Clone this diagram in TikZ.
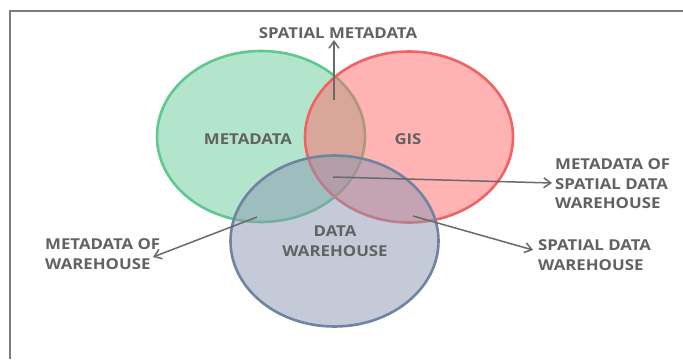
\documentclass[tikz,border=0pt]{standalone}
\usepackage{fontspec}
\setmainfont{Open Sans}[FakeStretch=1.12]
\usetikzlibrary{arrows.meta,shapes.geometric}
\definecolor{txtgray}{RGB}{98,98,98}
\definecolor{arrgray}{RGB}{105,105,110}
\definecolor{framegray}{RGB}{125,125,125}
\definecolor{gfill}{RGB}{105,205,155}
\definecolor{gline}{RGB}{95,200,140}
\definecolor{rfill}{RGB}{255,105,105}
\definecolor{rline}{RGB}{240,98,100}
\definecolor{bfill}{RGB}{139,151,179}
\definecolor{bline}{RGB}{112,132,162}
\tikzset{
  venn/.style={ellipse, minimum width=208pt, minimum height=171pt, line width=2.6pt, fill opacity=0.5, inner sep=0pt},
  lbl/.style={text=txtgray, font=\bfseries\fontsize{15}{19.5}\selectfont, inner sep=0pt},
  arr/.style={draw=arrgray, line width=1.5pt, -{Straight Barb[length=7pt,width=10pt]}}
}
\begin{document}
\begin{tikzpicture}[x=1pt,y=-1pt]
\useasboundingbox (0,0) rectangle (683,359);
\fill[white] (0,0) rectangle (683,359);
\draw[framegray, line width=1.4pt] (10,359) -- (10,11) -- (683,11);
% circles
\node[venn, draw=gline, fill=gfill] (meta) at (261,136.5) {};
\node[venn, draw=rline, fill=rfill] (gis) at (409,137) {};
\node[venn, draw=bline, fill=bfill] (dw) at (334.5,241) {};
% labels
\node[lbl] (lmeta) at (248,139) {METADATA};
\node[lbl] (lgis) at (408,139) {GIS};
\node[lbl, align=center] (ldw) at (335,241) {DATA\\WAREHOUSE};
\node[lbl] (lsm) at (338,33) {SPATIAL METADATA};
\node[lbl, align=left, anchor=west] (lmsdw) at (555,184) {METADATA OF\\SPATIAL DATA\\WAREHOUSE};
\node[lbl, align=left, anchor=west] (lmow) at (45,254) {METADATA OF\\WAREHOUSE};
\node[lbl, align=left, anchor=west] (lsdw) at (538,255) {SPATIAL DATA\\WAREHOUSE};
% arrow points
\coordinate (s1) at (334,100);
\coordinate (t1) at (334,40);
\coordinate (s2) at (333,177);
\coordinate (t2) at (552,183);
\coordinate (s3) at (257,217);
\coordinate (t3) at (153,257);
\coordinate (s4) at (413,216);
\coordinate (t4) at (533,250);
\draw[arr] (s1) -- (t1);
\draw[arr] (s2) -- (t2);
\draw[arr] (s3) -- (t3);
\draw[arr] (s4) -- (t4);
\end{tikzpicture}
\end{document}
